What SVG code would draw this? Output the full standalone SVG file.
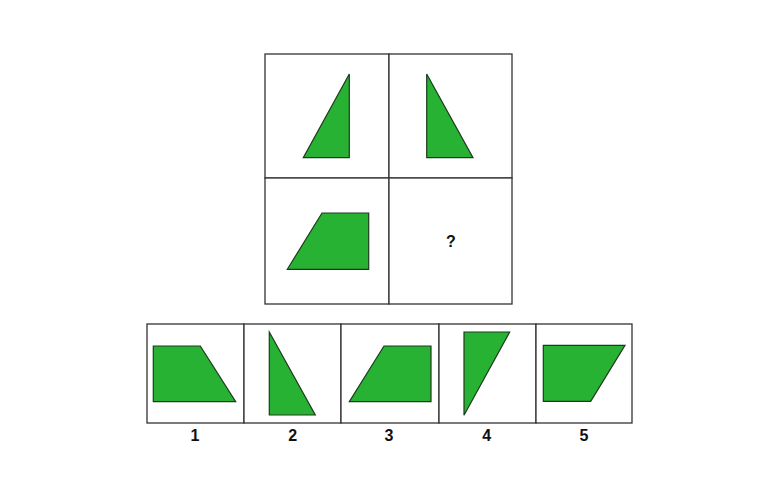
<svg xmlns="http://www.w3.org/2000/svg" width="767" height="484" viewBox="0 0 767 484">
<style>
.box{fill:#fff;stroke:#333;stroke-width:1.3}
.shape{fill:#27b233;stroke:#1d3a1d;stroke-width:1.2;stroke-linejoin:miter}
.lbl{font-family:"Liberation Sans",Arial,sans-serif;font-weight:bold;font-size:16px;fill:#111;text-anchor:middle}
</style>
<rect width="767" height="484" fill="#fff"/>
<g id="matrix">
<rect class="box" x="265" y="54" width="124" height="124"/>
<rect class="box" x="389" y="54" width="123" height="124"/>
<rect class="box" x="265" y="178" width="124" height="126"/>
<rect class="box" x="389" y="178" width="123" height="126"/>
</g>
<g id="cell1"><polygon class="shape" points="349.3,74 303.3,157.7 349.3,157.7"/></g>
<g id="cell2"><polygon class="shape" points="426.7,74 426.7,157.7 473,157.7"/></g>
<g id="cell3"><polygon class="shape" points="322,213 368.7,213 368.7,269.3 287.3,269.3"/></g>
<g id="cell4"><text class="lbl" x="451" y="247">?</text></g>
<g id="options">
<rect class="box" x="147" y="324" width="97" height="99"/>
<rect class="box" x="244" y="324" width="97" height="99"/>
<rect class="box" x="341" y="324" width="98" height="99"/>
<rect class="box" x="439" y="324" width="97" height="99"/>
<rect class="box" x="536" y="324" width="96" height="99"/>
</g>
<g id="opt1"><polygon class="shape" points="153.3,346 200.3,346 235.7,401.7 153.3,401.7"/><text class="lbl" x="195" y="441">1</text></g>
<g id="opt2"><polygon class="shape" points="269.3,332 269.3,415 315.3,415"/><text class="lbl" x="292.7" y="441">2</text></g>
<g id="opt3"><polygon class="shape" points="384,346 431,346 431,401.7 349.3,401.7"/><text class="lbl" x="389" y="441">3</text></g>
<g id="opt4"><polygon class="shape" points="464,332 509.7,332 464,415.3"/><text class="lbl" x="486.7" y="441">4</text></g>
<g id="opt5"><polygon class="shape" points="543.3,345.3 625,345.3 590.7,401.3 543.3,401.3"/><text class="lbl" x="584" y="441">5</text></g>
<g id="connectors"/>
</svg>
